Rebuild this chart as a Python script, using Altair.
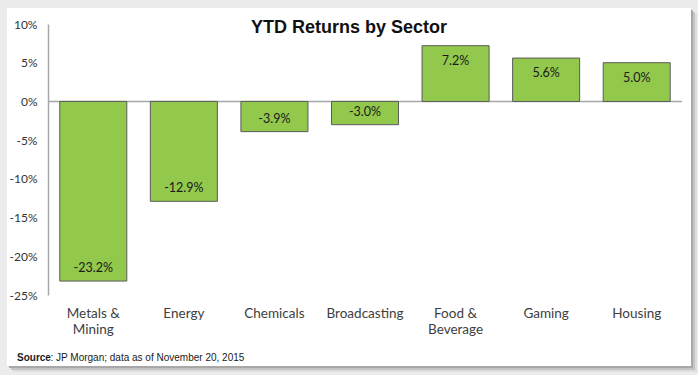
import altair as alt
import pandas as pd

categories = ["Metals & Mining", "Energy", "Chemicals", "Broadcasting",
              "Food & Beverage", "Gaming", "Housing"]
returns = [-23.2, -12.9, -3.9, -3.0, 7.2, 5.6, 5.0]
y_ticks = [-25, -20, -15, -10, -5, 0, 5, 10]
title_text = "YTD Returns by Sector"
source_bold = "Source"
source_rest = ": JP Morgan; data as of November 20, 2015"

df = pd.DataFrame({"sector": categories, "ret": returns})
one = pd.DataFrame({"k": [0]})

W, H = 634, 271
BAR_GREEN = "#92c84c"
GRAY_LINE = "#a6a6a6"

x_enc = alt.X(
    "sector:N", sort=categories,
    scale=alt.Scale(paddingInner=0.26, paddingOuter=0.13),
    axis=alt.Axis(title=None, labelAngle=0, domain=False, ticks=False,
                  labelPadding=11, labelFont="Lato", labelFontSize=13.5,
                  labelColor="#404040", labelLineHeight=16,
                  labelExpr="split(replace(datum.label, '& ', '&|'), '|')",
                  zindex=1),
)
y_enc = alt.Y(
    "ret:Q",
    scale=alt.Scale(domain=[y_ticks[0], y_ticks[-1]], nice=False, zero=False),
    axis=alt.Axis(title=None, values=y_ticks, tickCount=len(y_ticks),
                  labelExpr="datum.value + '%'",
                  ticks=False, grid=False, domainColor=GRAY_LINE,
                  domainWidth=1.5, labelPadding=11, labelFont="Lato",
                  labelFontSize=12, labelColor="#333333",
                  labelOverlap=False, labelSeparation=0, labelBound=False,
                  zindex=1),
)

def card(dx, color):
    return alt.Chart(one).mark_rect(color=color).encode(
        x=alt.value(-41 + dx), x2=alt.value(643 + dx),
        y=alt.value(-16 + dx), y2=alt.value(342 + dx))

shadow3 = card(6, "#dedede")
shadow2 = card(4, "#c4c4c4")
shadow1 = card(2, "#a8a8a8")
card_bg = card(0, "#ffffff")

zero = alt.Chart(one).mark_rule(color=GRAY_LINE, strokeWidth=1.5).encode(
    y=alt.datum(0))

bars = alt.Chart(df).mark_bar(color=BAR_GREEN, stroke="#5a5a5a",
                              strokeWidth=1).encode(x=x_enc, y=y_enc)

txt_expr = "(datum.ret < 0 ? '-' : '') + format(abs(datum.ret), '.1f') + '%'"
lab_common = dict(font="Lato", fontSize=12.5, color="#1a1a1a", baseline="middle")
pos_labels = alt.Chart(df).transform_filter("datum.ret >= 0").transform_calculate(
    txt=txt_expr).mark_text(dy=15, **lab_common).encode(
    x=x_enc, y=y_enc, text="txt:N")
neg_labels = alt.Chart(df).transform_filter("datum.ret < 0").transform_calculate(
    txt=txt_expr).mark_text(dy=-13, **lab_common).encode(
    x=x_enc, y=y_enc, text="txt:N")

src1 = alt.Chart(one).mark_text(align="left", baseline="alphabetic",
                                font="Liberation Sans", fontSize=10,
                                fontWeight="bold", color="#1a1a1a").encode(
    x=alt.value(17 - 48), y=alt.value(361 - 24), text=alt.value(source_bold))
src2 = alt.Chart(one).mark_text(align="left", baseline="alphabetic",
                                font="Liberation Sans", fontSize=10,
                                color="#1a1a1a").encode(
    x=alt.value(50.5 - 48), y=alt.value(361 - 24), text=alt.value(source_rest))

chart = alt.layer(
    shadow3, shadow2, shadow1, card_bg, zero, bars, pos_labels, neg_labels,
    src1, src2,
).properties(
    width=W, height=H,
    title=alt.Title(title_text, font="Liberation Sans", fontSize=18,
                    fontWeight="bold", color="#111111", anchor="middle",
                    frame="group", dx=-16, offset=0, dy=43,
                    baseline="alphabetic"),
    autosize=alt.AutoSizeParams(type="none"),
    padding={"left": 48, "top": 24, "right": 16, "bottom": 80},
    background="#ececec",
).configure_view(stroke=None).configure_axisY(labelOverlap=False)

chart.save("out.html", embed_options={"renderer": "svg", "actions": False})
